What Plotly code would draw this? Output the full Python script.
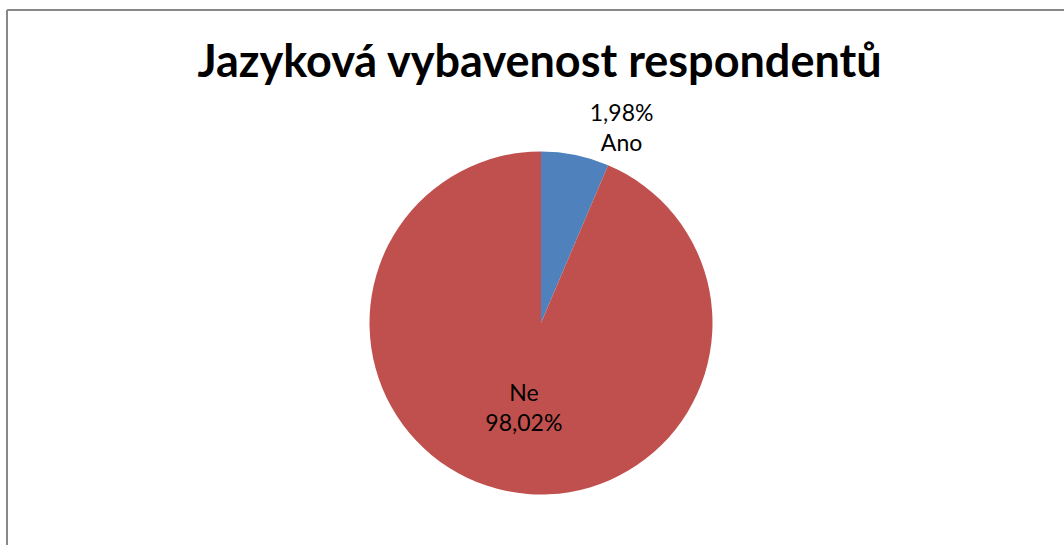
import plotly.graph_objects as go

categories = ["Ano", "Ne"]
slice_shares = [6.4, 93.6]          # drawn slice sizes as seen in the picture
label_percents = ["1,98%", "98,02%"]  # percentages printed on the chart
colors = ["#4F81BD", "#C0504D"]
title_text = "Jazyková vybavenost respondentů"

W, H = 1064, 545
cx, cy, r = 541, 323, 171.5

texts = [f"{label_percents[0]}<br>{categories[0]}", f"{categories[1]}<br>{label_percents[1]}"]

fig = go.Figure(go.Pie(
    labels=categories,
    values=slice_shares,
    text=texts,
    textinfo="text",
    textposition=["outside", "inside"],
    insidetextorientation="horizontal",
    marker=dict(colors=colors, line=dict(width=0)),
    sort=False,
    direction="clockwise",
    rotation=0,
    showlegend=False,
    hoverinfo="label+value",
    textfont=dict(family="Lato", size=23, color="black"),
    outsidetextfont=dict(family="Lato", size=23, color="black"),
    insidetextfont=dict(family="Lato", size=23, color="black"),
    domain=dict(x=[(cx - r) / W, (cx + r) / W], y=[(H - cy - r) / H, (H - cy + r) / H]),
))

fig.update_layout(
    width=W, height=H,
    margin=dict(l=0, r=0, t=0, b=0),
    paper_bgcolor="white",
    plot_bgcolor="white",
    title=dict(text=f"<b>{title_text}</b>", x=539.5 / W, xanchor="center",
               y=1 - 61 / H, yanchor="middle",
               font=dict(family="Lato", size=45, color="black")),
    shapes=[
        dict(type="line", xref="paper", yref="paper", x0=7 / W, x1=1.01, y0=1 - 10 / H, y1=1 - 10 / H,
             line=dict(color="#888888", width=2)),
        dict(type="line", xref="paper", yref="paper", x0=7 / W, x1=7 / W, y0=-0.01, y1=1 - 10 / H,
             line=dict(color="#888888", width=2)),
    ],
)

fig.write_html("out.html")
